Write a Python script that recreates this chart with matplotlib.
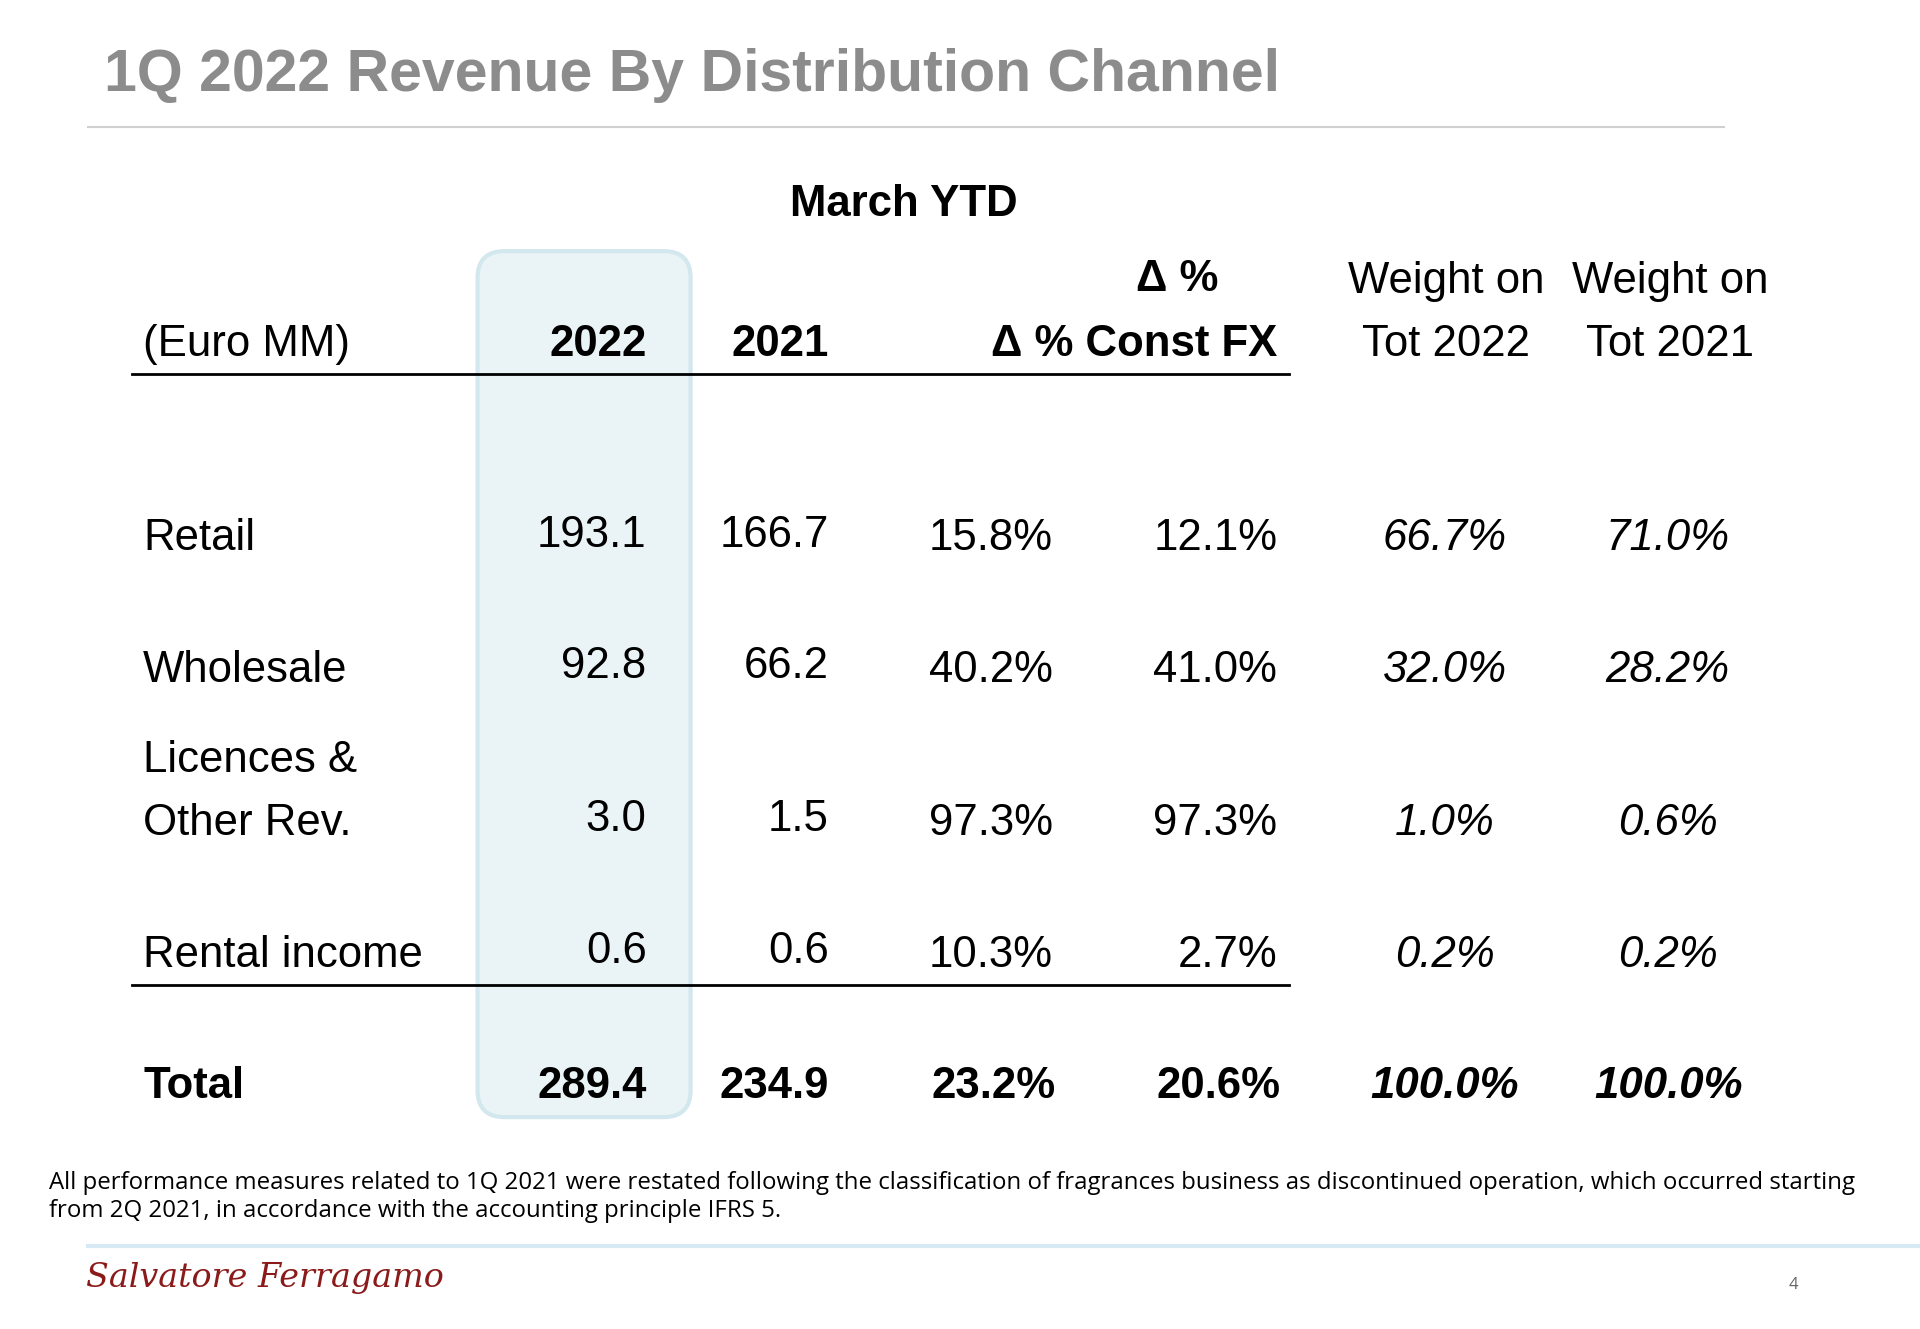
import matplotlib
matplotlib.use("Agg")
import matplotlib.pyplot as plt
from matplotlib.patches import FancyBboxPatch

title = "1Q 2022 Revenue By Distribution Channel"
rows = ["Retail", "Wholesale", "Licences &\nOther Rev.", "Rental income"]
v2022 = ["193.1", "92.8", "3.0", "0.6"]
v2021 = ["166.7", "66.2", "1.5", "0.6"]
dpct = ["15.8%", "40.2%", "97.3%", "10.3%"]
dfx = ["12.1%", "41.0%", "97.3%", "2.7%"]
w22 = ["66.7%", "32.0%", "1.0%", "0.2%"]
w21 = ["71.0%", "28.2%", "0.6%", "0.2%"]
total = ["Total", "289.4", "234.9", "23.2%", "20.6%", "100.0%", "100.0%"]
footnote = ("All performance measures related to 1Q 2021 were restated following the classification of fragrances business as discontinued operation, which occurred starting\n"
            "from 2Q 2021, in accordance with the accounting principle IFRS 5.")

fig = plt.figure(figsize=(19.2, 13.29), dpi=100)
ax = fig.add_axes([0, 0, 1, 1])
ax.set_xlim(0, 1568); ax.set_ylim(1085, 0); ax.axis("off")
F = "Liberation Sans"
fs = 31.5

ax.text(85, 62, title, fontsize=42.5, fontweight="bold", color="#8c8c8c", family=F, va="center")
ax.plot([72, 1408], [104, 104], color="#d0d0d0", lw=1.5)

ax.add_patch(FancyBboxPatch((390, 205), 174, 707, boxstyle="round,pad=0,rounding_size=22",
                            fc="#eaf4f7", ec="#d3e7ee", lw=3, zorder=0))

ax.text(738, 167, "March YTD", fontsize=fs, fontweight="bold", family=F, ha="center", va="center")
hy = 281
ax.text(117, hy, "(Euro MM)", fontsize=fs, family=F, va="center")
ax.text(528, hy, "2022", fontsize=fs, fontweight="bold", family=F, ha="right", va="center")
ax.text(677, hy, "2021", fontsize=fs, fontweight="bold", family=F, ha="right", va="center")
ax.text(995, 228, "Δ %", fontsize=fs, fontweight="bold", family=F, ha="right", va="center")
ax.text(1043, hy, "Δ % Const FX", fontsize=fs, fontweight="bold", family=F, ha="right", va="center")
for cx, lab in [(1181, "Tot 2022"), (1364, "Tot 2021")]:
    ax.text(cx, 230, "Weight on", fontsize=fs, family=F, ha="center", va="center")
    ax.text(cx, hy, lab, fontsize=fs, family=F, ha="center", va="center")
ax.plot([108, 1053], [305, 305], color="black", lw=2)
ax.plot([108, 1053], [804, 804], color="black", lw=2)

ys = [440, 547, 672, 780]
for i, y in enumerate(ys):
    if "\n" in rows[i]:
        a, b = rows[i].split("\n")
        ax.text(117, 621, a, fontsize=fs, family=F, va="center")
        ax.text(117, y, b, fontsize=fs, family=F, va="center")
    else:
        ax.text(117, y, rows[i], fontsize=fs, family=F, va="center")
    ax.text(528, y - 3, v2022[i], fontsize=fs, family=F, ha="right", va="center")
    ax.text(677, y - 3, v2021[i], fontsize=fs, family=F, ha="right", va="center")
    ax.text(860, y, dpct[i], fontsize=fs, family=F, ha="right", va="center")
    ax.text(1043, y, dfx[i], fontsize=fs, family=F, ha="right", va="center")
    ax.text(1180, y, w22[i], fontsize=fs, family=F, style="italic", ha="center", va="center")
    ax.text(1362, y, w21[i], fontsize=fs, family=F, style="italic", ha="center", va="center")

ty = 887
ax.text(117, ty, total[0], fontsize=fs, fontweight="bold", family=F, va="center")
for x, v, ha, it in [(528, total[1], "right", "normal"), (677, total[2], "right", "normal"),
                     (862, total[3], "right", "normal"), (1046, total[4], "right", "normal"),
                     (1180, total[5], "center", "italic"), (1363, total[6], "center", "italic")]:
    ax.text(x, ty, v, fontsize=fs, fontweight="bold", family=F, ha=ha, va="center", style=it)

ax.text(40, 977, footnote, fontsize=17.3, family="Open Sans", va="center", linespacing=1.2)
ax.plot([72, 1568], [1017, 1017], color="#d6e9f5", lw=3)
ax.text(70, 1043, "Salvatore Ferragamo", fontsize=24, family="DejaVu Serif", style="italic",
        color="#8b1a1a", va="center")
ax.text(1465, 1049, "4", fontsize=12, color="#666666", family="Open Sans", ha="center", va="center")

fig.savefig("out.png", dpi=100)
